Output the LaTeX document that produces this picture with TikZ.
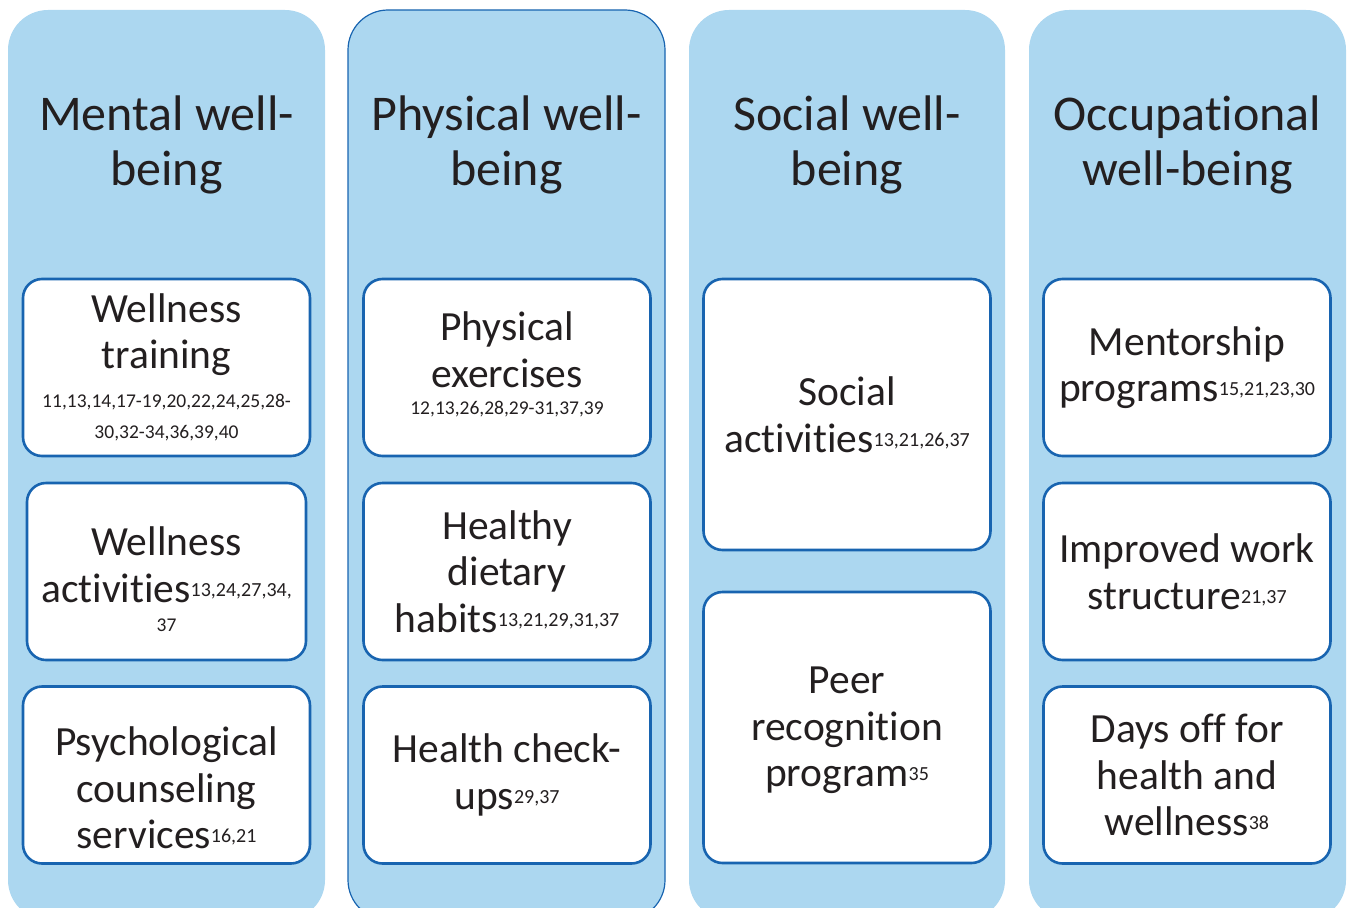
\documentclass[tikz,border=0pt]{standalone}
\usepackage{fontspec}
\setmainfont[Ligatures=NoCommon]{Carlito}
\definecolor{colfill}{RGB}{172,215,240}
\definecolor{boxline}{RGB}{24,100,176}
\definecolor{inkc}{RGB}{35,31,32}
% superscript reference numbers
\newcommand\rf[1]{\raisebox{6pt}{\fontsize{20}{22}\selectfont #1}}
\newcommand\refline[1]{{\fontsize{19.5}{22}\selectfont #1}}
\begin{document}
\begin{tikzpicture}[x=1pt,y=-1pt,
  column/.style={fill=colfill,rounded corners=40pt},
  header/.style={align=center,inner sep=0pt,text=inkc,font=\fontsize{50}{55}\selectfont},
  item/.style={draw=boxline,line width=2.6pt,fill=white,rounded corners=19pt,
    inner sep=0pt,align=center,text=inkc,font=\fontsize{41.5}{46.5}\selectfont,
    minimum width=287pt,minimum height=177pt},
  itemtext/.style={inner sep=0pt,align=center,text=inkc,font=\fontsize{41.5}{46.5}\selectfont},
  tall/.style={minimum height=271pt}]
\useasboundingbox (0,0) rectangle (1348,907);
\clip (0,0) rectangle (1348,907);

% the four columns
\path[column] (8,10) rectangle (325,920);
\path[column,draw=boxline,line width=1.2pt] (348,10) rectangle (665,920);
\path[column] (689,10) rectangle (1005,920);
\path[column] (1029,10) rectangle (1346,920);

% column headings
\node[header] (h1) at (166.5,145) {Mental well-\\being};
\node[header] (h2) at (506.5,145) {Physical well-\\being};
\node[header] (h3) at (847,145) {Social well-\\being};
\node[header] (h4) at (1187.5,145) {Occupational\\well-being};

% mental well-being
\node[item] (m1) at (166.5,367.5) {Wellness\\training\\[-8pt]\refline{11,13,14,17-19,20,22,24,25,28-}\\[-15pt]\refline{30,32-34,36,39,40}};
\node[item,minimum width=279pt] (m2) at (166.5,571.5) {};
\node[itemtext] (m2t) at ([yshift=-8pt]m2.center) {Wellness\\activities\rf{13,24,27,34,}\\[-17pt]\refline{37}};
\node[item] (m3) at (166.5,775) {};
\node[itemtext] (m3t) at ([yshift=-13pt]m3.center) {Psychological\\counseling\\services\rf{16,21}};

% physical well-being
\node[item] (p1) at (507,367.5) {};
\node[itemtext] (p1t) at ([yshift=3pt]p1.center) {Physical\\exercises\\[-19pt]\refline{12,13,26,28,29-31,37,39}};
\node[item] (p2) at (507,571.5) {Healthy\\dietary\\habits\rf{13,21,29,31,37}};
\node[item] (p3) at (507,775) {Health check-\\ups\rf{29,37}};

% social well-being
\node[item,tall] (s1) at (847,414.5) {Social\\activities\rf{13,21,26,37}};
\node[item,tall] (s2) at (847,727.5) {};
\node[itemtext] (s2t) at ([yshift=-3pt]s2.center) {Peer\\recognition\\program\rf{35}};

% occupational well-being
\node[item] (o1) at (1187,367.5) {Mentorship\\programs\rf{15,21,23,30}};
\node[item] (o2) at (1187,571.5) {Improved work\\structure\rf{21,37}};
\node[item] (o3) at (1187,775) {Days off for\\health and\\wellness\rf{38}};
\end{tikzpicture}
\end{document}
